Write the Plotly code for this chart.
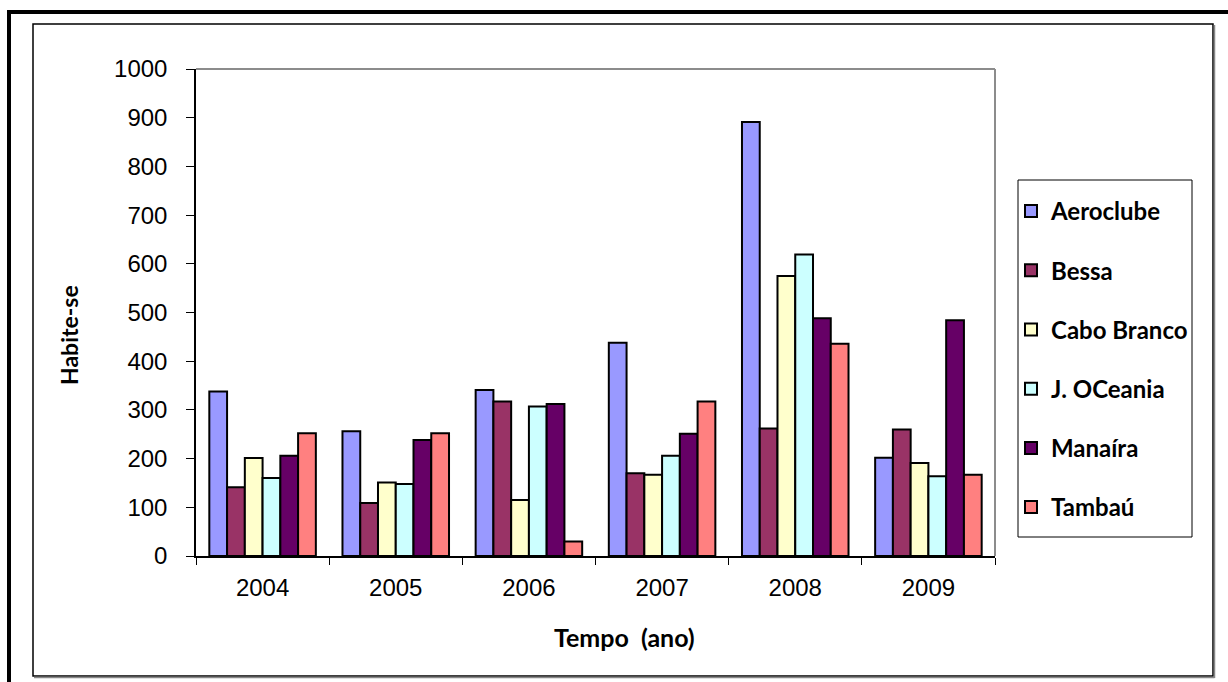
import plotly.graph_objects as go

# Anos e bairros
anos = ["2004", "2005", "2006", "2007", "2008", "2009"]
bairros = ["Aeroclube", "Bessa", "Cabo Branco", "J. OCeania", "Manaíra", "Tambaú"]

# Número de habite-se por bairro e ano
aeroclube = [338, 256, 341, 438, 891, 202]
bessa = [141, 109, 317, 170, 262, 260]
cabo_branco = [201, 151, 115, 167, 575, 191]
j_oceania = [160, 148, 307, 206, 619, 164]
manaira = [206, 238, 312, 251, 488, 484]
tambau = [252, 252, 30, 317, 436, 167]

series = [aeroclube, bessa, cabo_branco, j_oceania, manaira, tambau]
cores = ["#9999FF", "#993366", "#FFFFCC", "#CCFFFF", "#660066", "#FF8080"]

y_ticks = list(range(0, 1001, 100))

W, H = 1228, 682
# plot area in pixels
L, R, T, B = 196, 995, 69, 556


def px(x):
    return (x - L) / (R - L)


def py(y):
    return (B - y) / (B - T)


fig = go.Figure()
for nome, vals, cor in zip(bairros, series, cores):
    fig.add_trace(go.Bar(
        x=anos, y=vals, name=nome, legendgroup=nome,
        marker=dict(color=cor, line=dict(color="black", width=2)),
    ))

shapes = [
    # outer heavy frame (top and left visible)
    dict(type="rect", xref="paper", yref="paper",
         x0=px(9), x1=px(1260), y0=py(12), y1=py(720),
         line=dict(color="black", width=4)),
    # inner frame
    dict(type="rect", xref="paper", yref="paper",
         x0=px(33), x1=px(1213), y0=py(24), y1=py(676),
         line=dict(color="black", width=1.5)),
    dict(type="line", xref="paper", yref="paper",
         x0=px(1214.5), x1=px(1214.5), y0=py(25), y1=py(678),
         line=dict(color="#888888", width=1.5)),
    dict(type="line", xref="paper", yref="paper",
         x0=px(34), x1=px(1214.5), y0=py(677.5), y1=py(677.5),
         line=dict(color="#888888", width=1.5)),
    # plot area top/right edges
    dict(type="line", xref="paper", yref="paper",
         x0=0, x1=1, y0=1, y1=1, line=dict(color="#8c8c8c", width=2)),
    dict(type="line", xref="paper", yref="paper",
         x0=1, x1=1, y0=0, y1=1, line=dict(color="#8c8c8c", width=2)),
    # legend frame
    dict(type="rect", xref="paper", yref="paper",
         x0=px(1018), x1=px(1192), y0=py(180), y1=py(537),
         line=dict(color="black", width=1)),
]

annotations = [
    dict(text="<b>Habite-se</b>", xref="paper", yref="paper",
         x=px(69), y=py(335), textangle=-90, showarrow=False,
         font=dict(family="Lato", size=23, color="black"),
         xanchor="center", yanchor="middle"),
    dict(text="<b>Tempo  (ano)</b>", xref="paper", yref="paper",
         x=px(624), y=py(637), showarrow=False,
         font=dict(family="Lato", size=25, color="black"),
         xanchor="center", yanchor="middle"),
]

fig.update_layout(
    width=W, height=H,
    margin=dict(l=L, r=W - R, t=T, b=H - B),
    paper_bgcolor="white", plot_bgcolor="white",
    barmode="group", bargap=0.2, bargroupgap=0,
    shapes=shapes, annotations=annotations,
    showlegend=True,
    legend=dict(
        xref="container", yref="container",
        x=1011 / W, y=1 - 189 / H, xanchor="left", yanchor="top",
        bgcolor="rgba(0,0,0,0)", borderwidth=0,
        font=dict(family="Lato", size=24, color="black", weight="bold"),
        tracegroupgap=25, traceorder="grouped", maxheight=640,
    ),
    xaxis=dict(
        showline=True, linecolor="black", linewidth=1.5,
        ticks="outside", tickson="boundaries", ticklen=7,
        tickcolor="black", tickwidth=1,
        tickfont=dict(family="Liberation Sans, Arial", size=24, color="black"),
        ticklabelstandoff=9,
        showgrid=False, zeroline=False,
    ),
    yaxis=dict(
        range=[0, 1000], tickvals=y_ticks,
        showline=True, linecolor="black", linewidth=1.5,
        ticks="outside", ticklen=8, tickcolor="black", tickwidth=1,
        tickfont=dict(family="Liberation Sans, Arial", size=24, color="black"),
        ticklabelstandoff=14,
        showgrid=False, zeroline=False,
    ),
)

fig.write_html("out.html")
